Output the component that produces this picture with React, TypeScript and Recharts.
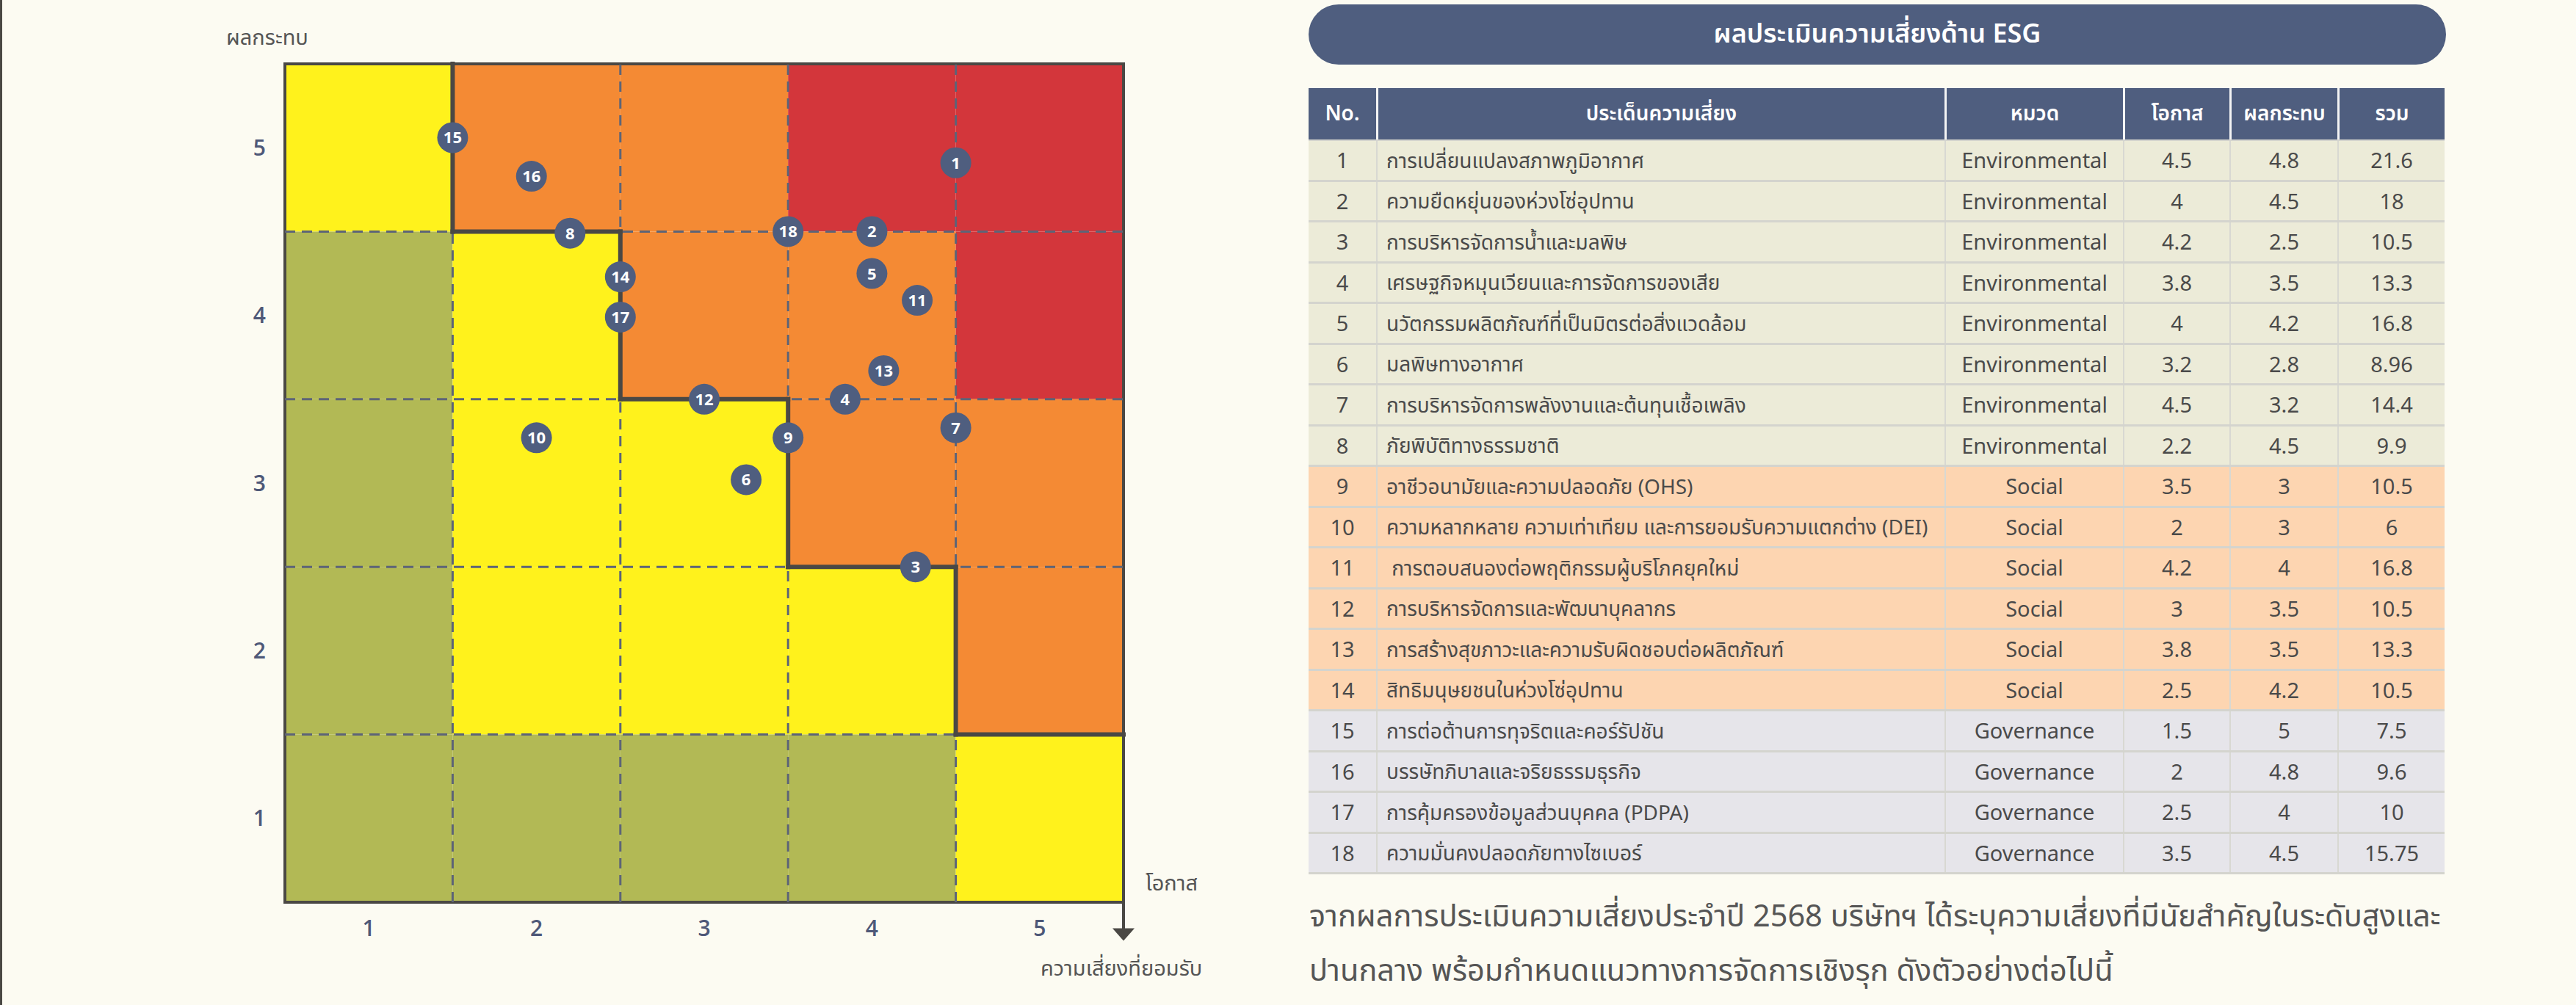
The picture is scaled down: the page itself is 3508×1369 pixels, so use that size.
import React from 'react';
import {
  ComposedChart, XAxis, YAxis, Scatter, ReferenceArea, ReferenceLine, ReferenceDot,
} from 'recharts';

document.body.style.margin = '0';

// table rows (as printed in the report)
const riskNo = [1, 2, 3, 4, 5, 6, 7, 8, 9, 10, 11, 12, 13, 14, 15, 16, 17, 18];
const riskNames = [
  'การเปลี่ยนแปลงสภาพภูมิอากาศ',
  'ความยืดหยุ่นของห่วงโซ่อุปทาน',
  'การบริหารจัดการน้ำและมลพิษ',
  'เศรษฐกิจหมุนเวียนและการจัดการของเสีย',
  'นวัตกรรมผลิตภัณฑ์ที่เป็นมิตรต่อสิ่งแวดล้อม',
  'มลพิษทางอากาศ',
  'การบริหารจัดการพลังงานและต้นทุนเชื้อเพลิง',
  'ภัยพิบัติทางธรรมชาติ',
  'อาชีวอนามัยและความปลอดภัย (OHS)',
  'ความหลากหลาย ความเท่าเทียม และการยอมรับความแตกต่าง (DEI)',
  ' การตอบสนองต่อพฤติกรรมผู้บริโภคยุคใหม่',
  'การบริหารจัดการและพัฒนาบุคลากร',
  'การสร้างสุขภาวะและความรับผิดชอบต่อผลิตภัณฑ์',
  'สิทธิมนุษยชนในห่วงโซ่อุปทาน',
  'การต่อต้านการทุจริตและคอร์รัปชัน',
  'บรรษัทภิบาลและจริยธรรมธุรกิจ',
  'การคุ้มครองข้อมูลส่วนบุคคล (PDPA)',
  'ความมั่นคงปลอดภัยทางไซเบอร์',
];
const riskCategory = [
  'Environmental', 'Environmental', 'Environmental', 'Environmental', 'Environmental', 'Environmental',
  'Environmental', 'Environmental', 'Social', 'Social', 'Social', 'Social', 'Social', 'Social',
  'Governance', 'Governance', 'Governance', 'Governance',
];
const likelihood = ['4.5', '4', '4.2', '3.8', '4', '3.2', '4.5', '2.2', '3.5', '2', '4.2', '3', '3.8', '2.5', '1.5', '2', '2.5', '3.5'];
const impact = ['4.8', '4.5', '2.5', '3.5', '4.2', '2.8', '3.2', '4.5', '3', '3', '4', '3.5', '3.5', '4.2', '5', '4.8', '4', '4.5'];
const totalScore = ['21.6', '18', '10.5', '13.3', '16.8', '8.96', '14.4', '9.9', '10.5', '6', '16.8', '10.5', '13.3', '10.5', '7.5', '9.6', '10', '15.75'];

// where each marker sits on the matrix
const plotX = [4.5, 4.0, 4.26, 3.84, 4.0, 3.25, 4.5, 2.2, 3.5, 2.0, 4.27, 3.0, 4.07, 2.5, 1.5, 1.97, 2.5, 3.5];
const plotY = [4.91, 4.5, 2.5, 3.5, 4.25, 3.02, 3.33, 4.49, 3.27, 3.27, 4.09, 3.5, 3.67, 4.23, 5.06, 4.83, 3.99, 4.5];

// heat map zones, impact 5 (top) down to 1
const zoneRows = [
  ['Y', 'O', 'O', 'R', 'R'],
  ['G', 'Y', 'O', 'O', 'R'],
  ['G', 'Y', 'Y', 'O', 'O'],
  ['G', 'Y', 'Y', 'Y', 'O'],
  ['G', 'G', 'G', 'G', 'Y'],
];
const axisTicks = [1, 2, 3, 4, 5];
const gridCuts = [1.5, 2.5, 3.5, 4.5];
const appetiteX = [1.5, 1.5, 2.5, 2.5, 3.5, 3.5, 4.5, 4.5, 5.5];
const appetiteY = [5.5, 4.5, 4.5, 3.5, 3.5, 2.5, 2.5, 1.5, 1.5];

const zoneColor: Record<string, string> = {
  G: '#B2B955', Y: '#FFF21C', O: '#F48A34', R: '#D3363B',
};
const catColor: Record<string, string> = {
  Environmental: '#ECEBD8', Social: '#FDD5B1', Governance: '#E6E5EA',
};

const NAVY = '#4F5E7F';
const DARK = '#4A4844';
const TEXT = '#4A4A4A';
const BG = '#FCFBF2';

const points = riskNo.map((n, i) => ({ id: n, x: plotX[i], y: plotY[i] }));

const Marker = (props: any) => {
  const { cx, cy, payload } = props;
  return (
    <g>
      <circle cx={cx} cy={cy} r={21} fill={NAVY} />
      <text x={cx} y={cy} dy={8} textAnchor="middle" fill="#fff"
        style={{ fontFamily: '"Open Sans", sans-serif', fontSize: 22, fontWeight: 700 }}>
        {payload.id}
      </text>
    </g>
  );
};

const ArrowHead = (props: any) => {
  const { cx, cy } = props;
  return <path d={`M${cx - 15},${cy - 17} L${cx + 15},${cy - 17} L${cx},${cy} Z`} fill={DARK} />;
};

const tickStyle = { fill: '#4E5878', fontSize: 30, fontWeight: 600, fontFamily: '"Open Sans", sans-serif' };

const RiskMatrix: React.FC = () => (
  <ComposedChart width={1700} height={1369} margin={{ top: 87, right: 170, bottom: 110, left: 328 }}>
    <XAxis type="number" dataKey="x" domain={[0.5, 5.5]} ticks={axisTicks} allowDataOverflow
      axisLine={false} tickLine={false} tickSize={0} tickMargin={25} tick={tickStyle} height={30} />
    <YAxis type="number" dataKey="y" domain={[0.5, 5.5]} ticks={axisTicks} allowDataOverflow
      axisLine={false} tickLine={false} tickSize={0} tickMargin={26} tick={tickStyle} width={60} />
    {zoneRows.map((row, r) =>
      row.map((z, c) => (
        <ReferenceArea key={`z${r}${c}`} x1={c + 0.5} x2={c + 1.5} y1={4.5 - r} y2={5.5 - r}
          fill={zoneColor[z]} fillOpacity={1} stroke="none" />
      )),
    )}
    {gridCuts.map((v) => (
      <ReferenceLine key={`gx${v}`} x={v} stroke="#5D6477" strokeWidth={3} strokeDasharray="14 9" />
    ))}
    {gridCuts.map((v) => (
      <ReferenceLine key={`gy${v}`} y={v} stroke="#5D6477" strokeWidth={3} strokeDasharray="14 9" />
    ))}
    {appetiteX.slice(1).map((_, i) => (
      <ReferenceLine key={`s${i}`} stroke={DARK} strokeWidth={6} strokeLinecap="square"
        segment={[{ x: appetiteX[i], y: appetiteY[i] }, { x: appetiteX[i + 1], y: appetiteY[i + 1] }]} />
    ))}
    <ReferenceArea x1={0.5} x2={5.5} y1={0.5} y2={5.5} fill="none" stroke={DARK} strokeWidth={4} />
    <ReferenceLine stroke={DARK} strokeWidth={4} ifOverflow="visible"
      segment={[{ x: 5.5, y: 0.5 }, { x: 5.5, y: 0.3 }]} />
    <ReferenceDot x={5.5} y={0.27} ifOverflow="visible" shape={ArrowHead} />
    <Scatter data={points} dataKey="y" shape={Marker} isAnimationActive={false} />
  </ComposedChart>
);

const colW = [92, 774, 243, 145, 147, 146];
const headers = ['No.', 'ประเด็นความเสี่ยง', 'หมวด', 'โอกาส', 'ผลกระทบ', 'รวม'];
const ROW_H = 55.5;
const thaiFont = '"Noto Sans Thai", "Noto Sans", "Liberation Sans", sans-serif';

const RiskTable: React.FC = () => (
  <div style={{ position: 'absolute', left: 1782, top: 120, width: 1547, fontFamily: thaiFont }}>
    <div style={{ display: 'flex', height: 70, background: NAVY }}>
      {headers.map((h, i) => (
        <div key={h} style={{
          width: colW[i], boxSizing: 'border-box', borderLeft: i ? '3px solid #F4F4F4' : 'none',
          color: '#fff', fontSize: 28, fontWeight: 600, display: 'flex', alignItems: 'center', justifyContent: 'center',
        }}>{h}</div>
      ))}
    </div>
    <div style={{ height: 2, background: '#D4D4CE' }} />
    {riskNo.map((n, r) => {
      const cells = [String(n), riskNames[r], riskCategory[r], likelihood[r], impact[r], totalScore[r]];
      return (
        <div key={n} style={{
          display: 'flex', height: ROW_H, boxSizing: 'border-box', borderBottom: '3px solid #D4D4CE',
          background: catColor[riskCategory[r]],
        }}>
          {cells.map((c, i) => (
            <div key={i} style={{
              width: colW[i], boxSizing: 'border-box', borderLeft: i ? '2px solid #D8D8D2' : 'none',
              color: TEXT, fontSize: i === 1 ? 28 : 29, display: 'flex', alignItems: 'center',
              justifyContent: i === 1 ? 'flex-start' : 'center', paddingLeft: i === 1 ? 12 : 0,
              paddingTop: 4, whiteSpace: 'pre',
            }}>{c}</div>
          ))}
        </div>
      );
    })}
  </div>
);

const label = (text: string, left: number, top: number, size = 29): React.ReactNode => (
  <div style={{ position: 'absolute', left, top, fontSize: size, color: '#555', fontFamily: thaiFont, whiteSpace: 'nowrap', lineHeight: 1 }}>
    {text}
  </div>
);

export default function App() {
  return (
    <div style={{ position: 'relative', width: 3508, height: 1369, background: BG, overflow: 'hidden' }}>
      <div style={{ position: 'absolute', left: 0, top: 0, width: 3, height: 1369, background: DARK }} />
      <div style={{ position: 'absolute', left: 0, top: 0 }}>
        <RiskMatrix />
      </div>
      {label('ผลกระทบ', 308, 38)}
      {label('โอกาส', 1560, 1190)}
      {label('ความเสี่ยงที่ยอมรับ', 1417, 1306)}
      <div style={{
        position: 'absolute', left: 1782, top: 6, width: 1549, height: 82, borderRadius: 41, background: NAVY,
        color: '#fff', fontSize: 36, fontWeight: 600, fontFamily: thaiFont,
        display: 'flex', alignItems: 'center', justifyContent: 'center',
      }}>ผลประเมินความเสี่ยงด้าน ESG</div>
      <RiskTable />
      <div style={{ position: 'absolute', left: 1783, top: 1213, width: 1560, fontFamily: thaiFont, fontSize: 41.5, color: '#555', lineHeight: '74px' }}>
        <div style={{ whiteSpace: 'nowrap' }}>
          จากผลการประเมินความเสี่ยงประจำปี 2568 บริษัทฯ ได้ระบุความเสี่ยงที่มีนัยสำคัญในระดับสูงและ
        </div>
        <div style={{ whiteSpace: 'nowrap' }}>ปานกลาง พร้อมกำหนดแนวทางการจัดการเชิงรุก ดังตัวอย่างต่อไปนี้</div>
      </div>
    </div>
  );
}
